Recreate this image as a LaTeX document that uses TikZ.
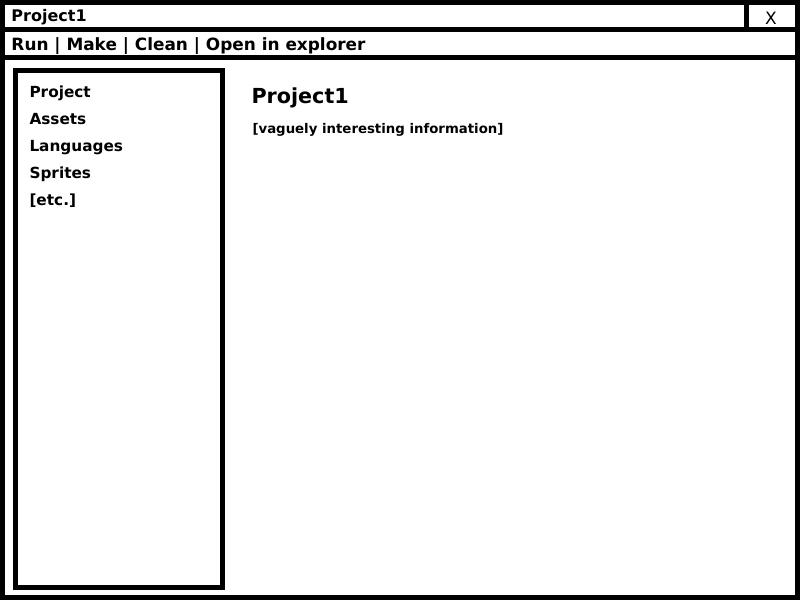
\documentclass[tikz,border=0pt]{standalone}
\usepackage{fontspec}
\setmainfont{DejaVu Sans}
\begin{document}
\begin{tikzpicture}[x=1pt,y=-1pt,line width=5pt,
  label/.style={anchor=base west,inner sep=0pt},
  bar/.style={label,font=\bfseries\fontsize{16}{18}\selectfont},
  item/.style={label,font=\bfseries\fontsize{15.3}{18}\selectfont}]
\useasboundingbox (0,0) rectangle (800,600);
% window frame and bars
\draw (2.5,2.5) rectangle (797.5,597.5);
\draw (0,29.5) -- (800,29.5);
\draw (0,57.5) -- (800,57.5);
\draw (746.5,0) -- (746.5,29.5);
% side panel
\draw (15.5,70.5) rectangle (222.5,587);
\node[bar] (title) at (9,21) {Project1};
\node[anchor=base,inner sep=0pt,font=\fontsize{17}{18}\selectfont] (close) at (771,24) {X};
\node[bar,font=\bfseries\fontsize{16.9}{18}\selectfont] (menu) at (9,50) {Run | Make | Clean | Open in explorer};
\node[item] (project) at (27,97) {Project};
\node[item] (assets) at (27,124) {Assets};
\node[item] (languages) at (27,151) {Languages};
\node[item] (sprites) at (27,178) {Sprites};
\node[item] (etc) at (27,205) {[etc.]};
\node[label,font=\bfseries\fontsize{20.7}{22}\selectfont] (heading) at (249,103) {Project1};
\node[label,font=\bfseries\fontsize{13.3}{14}\selectfont] (info) at (250,133) {[vaguely interesting information]};
\end{tikzpicture}
\end{document}
